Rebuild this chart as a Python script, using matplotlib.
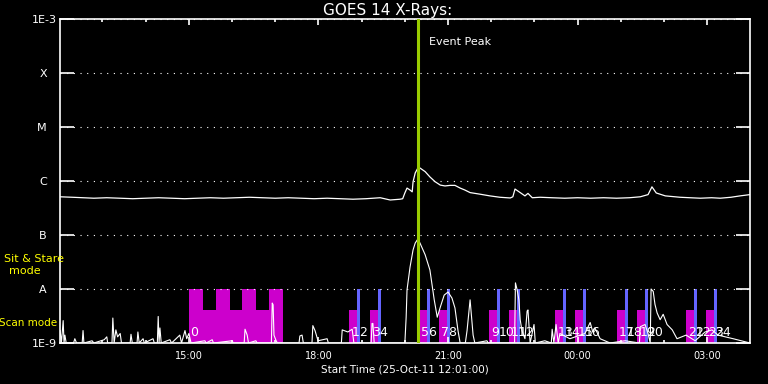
import matplotlib
matplotlib.use("Agg")
import matplotlib.pyplot as plt
from matplotlib.ticker import FixedLocator, NullLocator

# ---------- data (hours since 00:00 on 25-Oct-11; >24 = next day) ----------
long_t = [12.02, 12.30, 12.55, 12.80, 13.10, 13.40, 13.70, 14.00, 14.30, 14.60,
          14.90, 15.20, 15.50, 15.80, 16.10, 16.40, 16.70, 17.00, 17.30, 17.60,
          17.90, 18.20, 18.50, 18.80, 19.10, 19.43, 19.66, 19.89, 19.95, 20.00,
          20.05, 20.12, 20.17, 20.19, 20.24, 20.31, 20.35, 20.47, 20.58, 20.70,
          20.82, 20.93, 21.05, 21.16, 21.28, 21.39, 21.51, 21.74, 21.97, 22.20,
          22.44, 22.50, 22.55, 22.67, 22.78, 22.85, 22.95, 23.13, 23.40, 23.70,
          24.00, 24.30, 24.60, 24.90, 25.20, 25.45, 25.63, 25.72, 25.82, 26.03,
          26.37, 26.60, 26.84, 27.10, 27.30, 27.55, 27.76, 27.99]
long_flux = [5.1e-7, 5.0e-7, 4.9e-7, 4.8e-7, 4.9e-7, 4.8e-7, 4.7e-7, 4.8e-7, 4.9e-7, 4.8e-7,
             4.7e-7, 4.8e-7, 4.9e-7, 4.8e-7, 4.9e-7, 5.0e-7, 4.9e-7, 4.8e-7, 4.9e-7, 4.8e-7,
             4.7e-7, 4.8e-7, 4.7e-7, 4.6e-7, 4.7e-7, 4.9e-7, 4.45e-7, 4.6e-7, 4.7e-7, 6.0e-7,
             7.4e-7, 6.8e-7, 6.3e-7, 9.7e-7, 1.41e-6, 1.79e-6, 1.74e-6, 1.49e-6, 1.19e-6, 9.7e-7,
             8.4e-7, 8.1e-7, 8.3e-7, 8.3e-7, 7.4e-7, 6.8e-7, 6.1e-7, 5.7e-7, 5.3e-7, 5.0e-7,
             4.85e-7, 5.1e-7, 7.1e-7, 6.1e-7, 5.3e-7, 5.9e-7, 4.9e-7, 5.0e-7, 4.9e-7, 4.8e-7,
             4.9e-7, 4.8e-7, 4.9e-7, 4.8e-7, 4.9e-7, 5.1e-7, 5.6e-7, 7.8e-7, 6.0e-7, 5.3e-7,
             5.0e-7, 4.9e-7, 4.8e-7, 4.9e-7, 4.8e-7, 5.0e-7, 5.3e-7, 5.6e-7]

short_t = [12.02, 12.05, 12.09, 12.11, 12.13, 12.16, 12.33, 12.36, 12.40, 12.53,
           12.55, 12.57, 12.76, 12.80, 13.04, 13.10, 13.12, 13.22, 13.24, 13.27,
           13.31, 13.35, 13.41, 13.44, 13.64, 13.66, 13.69, 13.80, 13.82, 13.85,
           13.94, 13.97, 14.17, 14.20, 14.27, 14.29, 14.31, 14.33, 14.36, 14.56,
           14.60, 14.79, 14.83, 14.91, 14.95, 15.00, 15.05, 15.37, 15.40, 15.54,
           15.57, 16.00, 16.03, 16.28, 16.30, 16.35, 16.38, 16.55, 16.58, 16.91,
           16.93, 16.95, 16.97, 17.02, 17.05, 17.55, 17.57, 17.62, 17.65, 17.85,
           17.87, 17.92, 17.99, 18.20, 18.23, 18.53, 18.55, 18.68, 18.78, 18.82,
           19.22, 19.24, 19.26, 19.29, 19.43, 19.89, 20.00, 20.03, 20.05, 20.12,
           20.19, 20.24, 20.30, 20.35, 20.47, 20.58, 20.68, 20.75, 20.82, 20.91,
           21.00, 21.09, 21.16, 21.23, 21.28, 21.40, 21.44, 21.51, 21.58, 21.62,
           21.90, 21.93, 22.20, 22.54, 22.56, 22.60, 22.64, 22.67, 22.71, 22.78,
           22.83, 22.85, 22.90, 22.99, 23.02, 23.24, 23.39, 23.41, 23.45, 23.50,
           23.55, 23.59, 23.82, 24.17, 24.29, 24.35, 24.40, 24.52, 24.75, 25.10,
           25.43, 25.45, 25.56, 25.63, 25.68, 25.70, 25.75, 25.79, 25.84, 25.91,
           25.98, 26.07, 26.19, 26.30, 26.51, 26.72, 26.95, 27.11, 27.25, 27.60,
           27.99]
short_flux = [1.7e-9, 1.0e-9, 2.6e-9, 1.0e-9, 1.4e-9, 1.0e-9, 1.0e-9, 1.2e-9, 1.0e-9, 1.0e-9,
              1.7e-9, 1.0e-9, 1.1e-9, 1.0e-9, 1.15e-9, 1.3e-9, 1.0e-9, 1.0e-9, 2.9e-9, 1.0e-9,
              1.75e-9, 1.3e-9, 1.5e-9, 1.0e-9, 1.0e-9, 1.45e-9, 1.0e-9, 1.0e-9, 1.6e-9, 1.0e-9,
              1.2e-9, 1.0e-9, 1.2e-9, 1.0e-9, 1.0e-9, 3.1e-9, 1.0e-9, 1.9e-9, 1.0e-9, 1.15e-9,
              1.0e-9, 1.4e-9, 1.0e-9, 1.7e-9, 1.2e-9, 1.5e-9, 1.0e-9, 1.1e-9, 1.0e-9, 1.15e-9,
              1.0e-9, 1.1e-9, 1.0e-9, 1.0e-9, 1.8e-9, 1.4e-9, 1.0e-9, 1.1e-9, 1.0e-9, 1.0e-9,
              5.5e-9, 5.1e-9, 1.4e-9, 1.1e-9, 1.0e-9, 1.0e-9, 1.35e-9, 1.4e-9, 1.0e-9, 1.0e-9,
              2.1e-9, 1.7e-9, 1.1e-9, 1.2e-9, 1.0e-9, 1.0e-9, 1.75e-9, 1.6e-9, 1.8e-9, 1.0e-9,
              1.0e-9, 2.3e-9, 2.3e-9, 1.0e-9, 1.0e-9, 1.0e-9, 1.0e-9, 3.0e-9, 9.6e-9, 2.55e-8,
              5.3e-8, 7.1e-8, 8.4e-8, 7.1e-8, 4.3e-8, 2.25e-8, 6.3e-9, 3.0e-9, 4.6e-9, 7.7e-9,
              8.8e-9, 6.8e-9, 4.45e-9, 1.7e-9, 1.0e-9, 1.0e-9, 1.7e-9, 6.3e-9, 1.4e-9, 1.0e-9,
              1.1e-9, 1.0e-9, 1.0e-9, 1.0e-9, 1.3e-8, 9.6e-9, 6.3e-9, 2.7e-9, 1.7e-9, 1.2e-9,
              3.9e-9, 4.1e-9, 1.0e-9, 2.2e-9, 1.0e-9, 1.1e-9, 1.0e-9, 1.8e-9, 1.0e-9, 2.2e-9,
              1.0e-9, 1.5e-9, 1.2e-9, 1.5e-9, 2.4e-9, 1.6e-9, 1.9e-9, 1.2e-9, 1.0e-9, 1.1e-9,
              1.0e-9, 2.0e-9, 2.2e-9, 1.5e-9, 1.0e-9, 1.0e-8, 9.0e-9, 5.2e-9, 3.6e-9, 2.7e-9,
              3.4e-9, 2.2e-9, 1.75e-9, 1.2e-9, 1.4e-9, 1.1e-9, 1.6e-9, 1.75e-9, 1.4e-9, 1.2e-9,
              1.0e-9]

# first long observing block: alternating sit&stare / scan
block_t0 = [15.00, 15.33, 15.63, 15.95, 16.23, 16.55, 16.86]
block_t1 = [15.33, 15.63, 15.95, 16.23, 16.55, 16.86, 17.18]
block_mode = ["stare", "scan", "stare", "scan", "stare", "scan", "stare"]

# later observations: scan then short sit&stare
scan_t0 = [18.71, 19.19, 20.33, 20.79, 21.95, 22.41, 23.48, 23.94, 24.91, 25.38, 26.51, 26.97]
scan_t1 = [18.89, 19.37, 20.51, 20.97, 22.13, 22.59, 23.66, 24.12, 25.09, 25.56, 26.69, 27.15]
stare_t1 = [18.96, 19.44, 20.58, 21.04, 22.20, 22.66, 23.73, 24.19, 25.16, 25.63, 26.76, 27.22]

event_peak = 20.30
t_start, t_end = 12 + 1 / 60, 27.99

level_names = ["1E-9", "A", "B", "C", "M", "X", "1E-3"]
level_vals = [1e-9, 1e-8, 1e-7, 1e-6, 1e-5, 1e-4, 1e-3]
hour_ticks = [15, 18, 21, 24, 27]
hour_labels = ["15:00", "18:00", "21:00", "00:00", "03:00"]

MAGENTA = "#cc00cc"
BLUE = "#6464ff"
PEAK = "#99cc00"
YEL = "#ffff00"
STARE_TOP, SCAN_TOP = 1e-8, 4.1e-9
BASE = 1e-9

fig = plt.figure(figsize=(7.68, 3.84), dpi=100, facecolor="black")
ax = fig.add_axes([60 / 768, 1 - 343 / 384, 690 / 768, 324 / 384], facecolor="black")
ax.set_yscale("log")
ax.set_ylim(1e-9, 1e-3)
ax.set_xlim(t_start, t_end)

# observing modes
for a, b, m in zip(block_t0, block_t1, block_mode):
    top = STARE_TOP if m == "stare" else SCAN_TOP
    ax.bar(a, top - BASE, width=b - a, bottom=BASE, align="edge", color=MAGENTA, lw=0, zorder=1)
for a, b, c in zip(scan_t0, scan_t1, stare_t1):
    ax.bar(a, SCAN_TOP - BASE, width=b - a, bottom=BASE, align="edge", color=MAGENTA, lw=0, zorder=1)
    ax.bar(b, STARE_TOP - BASE, width=c - b, bottom=BASE, align="edge", color=BLUE, lw=0, zorder=1)

# numbers
ax.text(block_t0[0] + 0.03, 1.2e-9, "0", color="white", fontsize=9, ha="left", va="bottom", zorder=5)
for i, (a, c) in enumerate(zip(scan_t0, stare_t1)):
    ax.text(a + 0.05, 1.2e-9, str(2 * i + 1), color="white", fontsize=9, ha="left", va="bottom", zorder=5)
    ax.text(c - 0.03, 1.2e-9, str(2 * i + 2), color="white", fontsize=9, ha="left", va="bottom", zorder=5)

ax.plot(long_t, long_flux, color="white", lw=0.9, zorder=3)
ax.plot(short_t, short_flux, color="white", lw=0.8, zorder=3)
ax.axvline(event_peak, color=PEAK, lw=2.2, zorder=4)
ax.text(event_peak + 0.25, 10 ** -3.42, "Event Peak", color="white", fontsize=8, va="center")

# axes style
for s in ax.spines.values():
    s.set_color("white")
    s.set_linewidth(1.2)
ax.yaxis.set_major_locator(FixedLocator(level_vals))
ax.set_yticklabels(level_names)
ax.yaxis.set_minor_locator(NullLocator())
ax.grid(axis="y", color="white", linestyle=(0, (1, 5)), lw=0.8)
ax.tick_params(axis="y", which="major", direction="in", length=10, width=1.2,
               colors="white", labelsize=8, left=True, right=True, pad=2)
for tk, name in zip(ax.yaxis.get_major_ticks(), level_names):
    if len(name) == 1:
        tk.set_pad(9.5)

ax.set_xticks(hour_ticks)
ax.set_xticklabels(hour_labels)
ax.set_xticks(list(range(13, 28)), minor=True)
ax.tick_params(axis="x", which="major", direction="in", length=4.5, width=1.2,
               colors="white", labelsize=7, top=True, bottom=True, pad=6)
ax.tick_params(axis="x", which="minor", direction="in", length=2.5, width=1.2,
               colors="white", top=True, bottom=True)

ax.set_xlabel("Start Time (25-Oct-11 12:01:00)", color="white", fontsize=7.5, labelpad=2)
fig.text(388 / 768, 1 - 10 / 384, "GOES 14 X-Rays:", color="white", fontsize=11,
         ha="center", va="center")

fig.text(34 / 768, 1 - 259 / 384, "Sit & Stare", color=YEL, fontsize=8, ha="center", va="center")
fig.text(25 / 768, 1 - 271 / 384, "mode", color=YEL, fontsize=8, ha="center", va="center")
fig.text(28 / 768, 1 - 323 / 384, "Scan mode", color=YEL, fontsize=7.5, ha="center", va="center")

fig.savefig("out.png", dpi=100, facecolor="black")
